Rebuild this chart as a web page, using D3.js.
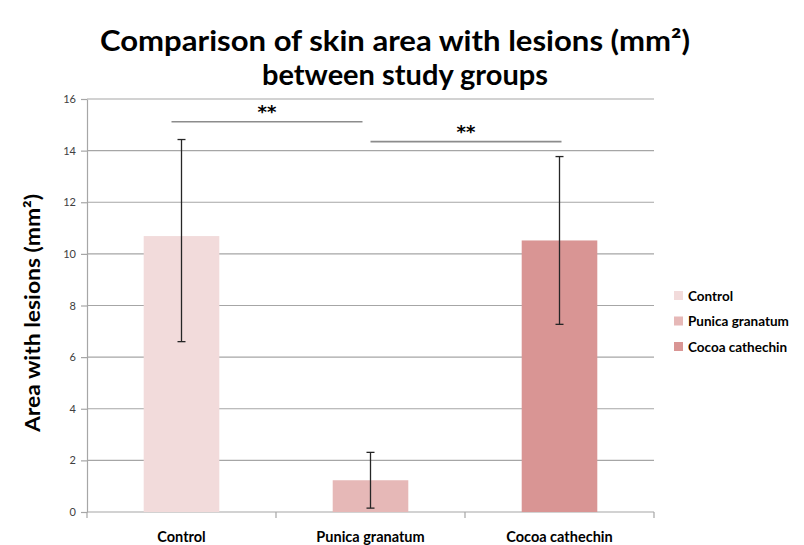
<!DOCTYPE html>
<html>
<head>
<meta charset="utf-8">
<script src="https://cdn.jsdelivr.net/npm/d3@7"></script>
<style>
  html, body { margin: 0; padding: 0; background: #ffffff; }
  svg { display: block; }
  text { font-family: Lato, "Open Sans", sans-serif; }
</style>
</head>
<body>
<svg id="chart" width="804" height="545"></svg>
<script>
// ---- data ----
const categories = ["Control", "Punica granatum", "Cocoa cathechin"];
const means      = [10.69, 1.23, 10.52];
const errLow     = [6.60, 0.15, 7.27];
const errHigh    = [14.43, 2.31, 13.77];
const barColors  = ["#f2dbdb", "#e6b8b7", "#d99594"];
const yTicks     = [0, 2, 4, 6, 8, 10, 12, 14, 16];
const sigPairs   = [[0, 1], [1, 2]];
const sigLevels  = [15.12, 14.35];
const sigLabels  = ["**", "**"];
const titleLines = ["Comparison of skin area with lesions (mm\u00B2)", "between study groups"];
const yTitle     = "Area with lesions (mm\u00B2)";

// ---- layout ----
const svg = d3.select("#chart");
const W = 804, H = 545;
const plot = { left: 87, top: 99, right: 654, bottom: 512 };

const x = d3.scaleBand().domain(categories).range([plot.left, plot.right]).paddingInner(0).paddingOuter(0);
const y = d3.scaleLinear().domain([0, 16]).range([plot.bottom, plot.top]);
const barW = x.bandwidth() * 0.4;

svg.append("rect").attr("width", W).attr("height", H).attr("fill", "#fff");

// gridlines
svg.append("g").selectAll("line").data(yTicks.filter(d => d > 0)).join("line")
  .attr("x1", plot.left).attr("x2", plot.right)
  .attr("y1", d => y(d)).attr("y2", d => y(d))
  .attr("stroke", "#a6a6a6").attr("stroke-width", 1.2);

// y axis
const yAxis = d3.axisLeft(y).tickValues(yTicks).tickSize(6).tickSizeOuter(0).tickPadding(5);
const gy = svg.append("g").attr("transform", `translate(${plot.left},0)`).call(yAxis);
gy.select(".domain").attr("stroke", "#a6a6a6").attr("stroke-width", 1.2);
gy.selectAll(".tick line").attr("stroke", "#a6a6a6").attr("stroke-width", 1.2);
gy.selectAll(".tick text").attr("fill", "#404040").style("font-size", "11px")
  .style("font-family", "Lato, 'Open Sans', sans-serif");

// x axis (ticks at band boundaries)
const gx = svg.append("g");
gx.append("line").attr("x1", plot.left).attr("x2", plot.right)
  .attr("y1", plot.bottom).attr("y2", plot.bottom)
  .attr("stroke", "#a6a6a6").attr("stroke-width", 1.2);
const boundaries = categories.map(c => x(c)).concat([x(categories[categories.length - 1]) + x.bandwidth()]);
gx.selectAll("line.tk").data(boundaries).join("line").attr("class", "tk")
  .attr("x1", d => d).attr("x2", d => d)
  .attr("y1", plot.bottom).attr("y2", plot.bottom + 6)
  .attr("stroke", "#a6a6a6").attr("stroke-width", 1.2);
gx.selectAll("text").data(categories).join("text")
  .attr("x", d => x(d) + x.bandwidth() / 2)
  .attr("y", 542)
  .attr("text-anchor", "middle")
  .attr("font-weight", "bold")
  .attr("font-size", 14.5)
  .attr("fill", "#000")
  .text(d => d);

// bars
svg.append("g").selectAll("rect").data(categories).join("rect")
  .attr("x", d => x(d) + x.bandwidth() / 2 - barW / 2)
  .attr("width", barW)
  .attr("y", (d, i) => y(means[i]))
  .attr("height", (d, i) => y(0) - y(means[i]))
  .attr("fill", (d, i) => barColors[i]);

// error bars
const eg = svg.append("g").attr("stroke", "#262626").attr("stroke-width", 1.3);
categories.forEach((c, i) => {
  const cx = x(c) + x.bandwidth() / 2;
  eg.append("line").attr("x1", cx).attr("x2", cx).attr("y1", y(errHigh[i])).attr("y2", y(errLow[i]));
  eg.append("line").attr("x1", cx - 4).attr("x2", cx + 4).attr("y1", y(errHigh[i])).attr("y2", y(errHigh[i]));
  eg.append("line").attr("x1", cx - 4).attr("x2", cx + 4).attr("y1", y(errLow[i])).attr("y2", y(errLow[i]));
});

// significance brackets
const center = i => x(categories[i]) + x.bandwidth() / 2;
const sg = svg.append("g");
sigPairs.forEach((p, k) => {
  const x1 = k === 0 ? center(p[0]) - 10 : center(p[0]);
  const x2 = k === 0 ? center(p[1]) - 8 : center(p[1]) + 2;
  sg.append("line").attr("x1", x1).attr("x2", x2)
    .attr("y1", y(sigLevels[k])).attr("y2", y(sigLevels[k]))
    .attr("stroke", "#8c8c8c").attr("stroke-width", 1.6);
  sg.append("text").attr("x", (x1 + x2) / 2).attr("y", y(sigLevels[k]) - 4)
    .attr("text-anchor", "middle").attr("font-weight", "bold").attr("font-size", 18)
    .style("font-family", "'DejaVu Sans', sans-serif")
    .attr("fill", "#000").text(sigLabels[k]);
});

// legend
const lg = svg.append("g");
categories.forEach((c, i) => {
  const ly = 296 + i * 25.5;
  lg.append("rect").attr("x", 674).attr("y", ly - 5).attr("width", 9).attr("height", 9).attr("fill", barColors[i]);
  lg.append("text").attr("x", 688).attr("y", ly + 4.5)
    .attr("font-weight", "bold").attr("font-size", 13.5).attr("fill", "#000").text(c);
});

// titles
svg.append("text").attr("x", 395).attr("y", 51).attr("text-anchor", "middle")
  .attr("font-weight", "bold").attr("font-size", 28).attr("fill", "#000")
  .attr("textLength", 590).attr("lengthAdjust", "spacingAndGlyphs")
  .text(titleLines[0]);
svg.append("text").attr("x", 405).attr("y", 85).attr("text-anchor", "middle")
  .attr("font-weight", "bold").attr("font-size", 28).attr("fill", "#000")
  .attr("textLength", 286).attr("lengthAdjust", "spacingAndGlyphs")
  .text(titleLines[1]);

svg.append("text")
  .attr("transform", "translate(40,313) rotate(-90)")
  .attr("text-anchor", "middle")
  .attr("font-weight", "bold").attr("font-size", 21).attr("fill", "#000")
  .attr("textLength", 238).attr("lengthAdjust", "spacingAndGlyphs")
  .text(yTitle);
</script>
</body>
</html>
